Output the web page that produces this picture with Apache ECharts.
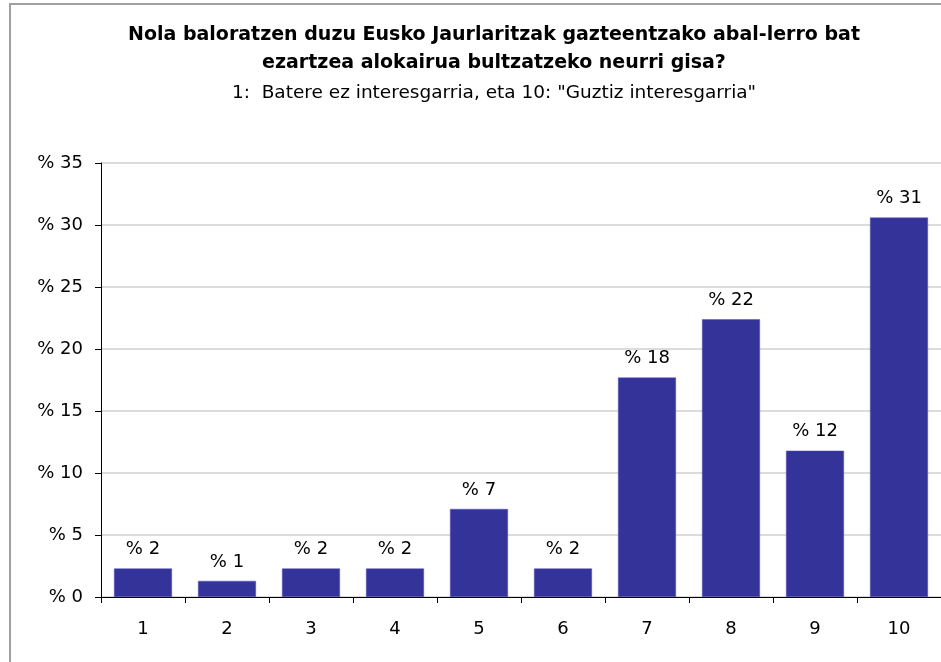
<!DOCTYPE html>
<html>
<head>
<meta charset="utf-8">
<script src="https://cdn.jsdelivr.net/npm/echarts@6/dist/echarts.min.js"></script>
<style>
  html, body { margin: 0; padding: 0; background: #fff; }
  #main { width: 941px; height: 662px; }
</style>
</head>
<body>
<div id="main"></div>
<script>
// datuak
var categories = ['1', '2', '3', '4', '5', '6', '7', '8', '9', '10'];
var values = [2.3, 1.3, 2.3, 2.3, 7.1, 2.3, 17.7, 22.4, 11.8, 30.6];
var titleLine1 = 'Nola baloratzen duzu Eusko Jaurlaritzak gazteentzako abal-lerro bat';
var titleLine2 = 'ezartzea alokairua bultzatzeko neurri gisa?';
var subText = '1:  Batere ez interesgarria, eta 10: "Guztiz interesgarria"';

var fontName = 'DejaVu Sans';
var barColor = '#333399';
var titleX = 489; // izenburuaren erdigunea

var myChart = echarts.init(document.getElementById('main'));
var titleStyle = { fontFamily: fontName, fontSize: 19, fontWeight: 'bold', color: '#000' };
var option = {
  backgroundColor: '#fff',
  animation: false,
  graphic: [{
    type: 'rect',
    shape: { x: 10, y: 4, width: 960, height: 700 },
    style: { fill: 'none', stroke: '#a0a0a0', lineWidth: 2 },
    silent: true
  }],
  title: [
    { text: titleLine1, left: titleX, textAlign: 'center', top: 21, textStyle: titleStyle },
    { text: titleLine2, left: titleX, textAlign: 'center', top: 49, textStyle: titleStyle },
    { text: subText, left: titleX, textAlign: 'center', top: 79,
      textStyle: { fontFamily: fontName, fontSize: 18.5, fontWeight: 'normal', color: '#000' } }
  ],
  grid: { left: 101, right: 0, top: 163, bottom: 65 },
  xAxis: {
    type: 'category',
    data: categories,
    axisLine: { lineStyle: { color: '#000', width: 1 } },
    axisTick: { show: true, length: 6, lineStyle: { color: '#000' } },
    axisLabel: { fontFamily: fontName, fontSize: 18, color: '#000', margin: 23 }
  },
  yAxis: {
    type: 'value',
    min: 0,
    max: 35,
    interval: 5,
    axisLine: { show: true, lineStyle: { color: '#000', width: 1 } },
    axisTick: { show: true, length: 6, lineStyle: { color: '#000' } },
    splitLine: { lineStyle: { color: '#d0d0d0', width: 1.5 } },
    axisLabel: {
      fontFamily: fontName, fontSize: 18, color: '#000', margin: 18,
      formatter: function (v) { return '% ' + v; }
    }
  },
  series: [{
    type: 'bar',
    data: values,
    barWidth: '69%',
    itemStyle: { color: barColor, borderColor: '#5555bb', borderWidth: 0.5 },
    label: {
      show: true,
      position: 'top',
      distance: 10,
      fontFamily: fontName, fontSize: 18, color: '#000',
      formatter: function (p) { return '% ' + Math.round(p.value); }
    }
  }]
};
myChart.setOption(option);
</script>
</body>
</html>
